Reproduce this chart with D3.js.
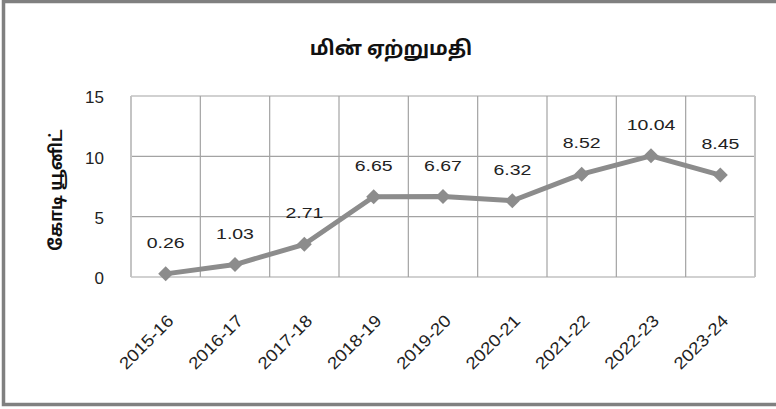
<!DOCTYPE html>
<html><head><meta charset="utf-8">
<script src="https://cdn.jsdelivr.net/npm/d3@7"></script>
<style>
body{margin:0;background:#fff;}
svg{display:block;}
</style></head>
<body>
<svg id="c" width="776" height="409"></svg>
<script>
const categories = ["2015-16","2016-17","2017-18","2018-19","2019-20","2020-21","2021-22","2022-23","2023-24"];
const values = [0.26,1.03,2.71,6.65,6.67,6.32,8.52,10.04,8.45];
const yTicks = [0,5,10,15];
const title = "மின் ஏற்றுமதி";
const yTitle = "கோடி யூனிட்";

const svg = d3.select("#c");
const W = 776, H = 409;
const m = {left:131, right:755, top:96, bottom:277};
const gray = "#8c8c8c";
const grid = "#a3a3a3";
const latin = "'Liberation Sans', Arial, sans-serif";
const tamil = "'Noto Sans Tamil','Latha','Lohit Tamil','Noto Sans',sans-serif";

// outer frame
svg.append("rect").attr("x",3.5).attr("y",1.5).attr("width",W+10).attr("height",H-6)
  .attr("fill","none").attr("stroke","#808080").attr("stroke-width",3.5);

const x = d3.scaleBand().domain(categories).range([m.left, m.right]).padding(0);
const y = d3.scaleLinear().domain([0,15]).range([m.bottom, m.top]);

// horizontal gridlines
svg.append("g").selectAll("line").data(yTicks).join("line")
  .attr("x1",m.left).attr("x2",m.right)
  .attr("y1",d=>y(d)).attr("y2",d=>y(d))
  .attr("stroke",grid).attr("stroke-width",1.2);

// vertical gridlines
const bounds = categories.map(c=>x(c)).concat([x(categories[categories.length-1])+x.bandwidth()]);
svg.append("g").selectAll("line").data(bounds).join("line")
  .attr("x1",d=>d).attr("x2",d=>d)
  .attr("y1",m.top).attr("y2",m.bottom)
  .attr("stroke",(d,i)=> (i===0||i===bounds.length-1) ? "#c4c4c4" : grid)
  .attr("stroke-width",(d,i)=> (i===0||i===bounds.length-1) ? 2 : 1.2);

// y axis tick labels
const yAxis = d3.axisLeft(y).tickValues(yTicks).tickSize(0).tickPadding(0);
const yg = svg.append("g").attr("transform",`translate(104,0)`).call(yAxis);
yg.select(".domain").remove();
yg.selectAll("text").attr("font-family",latin).attr("font-size",17).attr("fill","#222")
  .attr("dy","0.4em");

// x axis labels
const xAxis = d3.axisBottom(x).tickSize(0).tickPadding(0);
const xg = svg.append("g").attr("transform",`translate(0,${m.bottom})`).call(xAxis);
xg.select(".domain").remove();
xg.selectAll("text")
  .attr("font-family",latin).attr("font-size",17).attr("fill","#222")
  .attr("text-anchor","end")
  .attr("dy",0).attr("y",0)
  .attr("transform","translate(9,45) rotate(-45) scale(1.1,1)");

// line
const cx = d => x(d.c) + x.bandwidth()/2;
const data = categories.map((c,i)=>({c, v:values[i]}));
svg.append("path").datum(data)
  .attr("d", d3.line().x(cx).y(d=>y(d.v)))
  .attr("fill","none").attr("stroke",gray).attr("stroke-width",5).attr("stroke-linejoin","round");

// diamond markers
svg.append("g").selectAll("path").data(data).join("path")
  .attr("transform", d=>`translate(${cx(d)},${y(d.v)})`)
  .attr("d","M0,-7.5L7.5,0L0,7.5L-7.5,0Z")
  .attr("fill",gray);

// data labels
svg.append("g").selectAll("text").data(data).join("text")
  .attr("transform", d=>`translate(${cx(d)},${y(d.v)-26}) scale(1.3,1)`)
  .attr("text-anchor","middle")
  .attr("font-family",latin).attr("font-size",15).attr("fill","#222")
  .text(d=>d.v.toFixed(2));

// title
svg.append("text").attr("x",391).attr("y",55).attr("text-anchor","middle")
  .attr("font-family",tamil).attr("font-weight","bold").attr("font-size",20).attr("fill","#111")
  .text(title);

// y title
svg.append("text").attr("transform","translate(62,190) rotate(-90)")
  .attr("text-anchor","middle")
  .attr("font-family",tamil).attr("font-weight","bold").attr("font-size",17).attr("fill","#111")
  .text(yTitle);
</script>
</body></html>
